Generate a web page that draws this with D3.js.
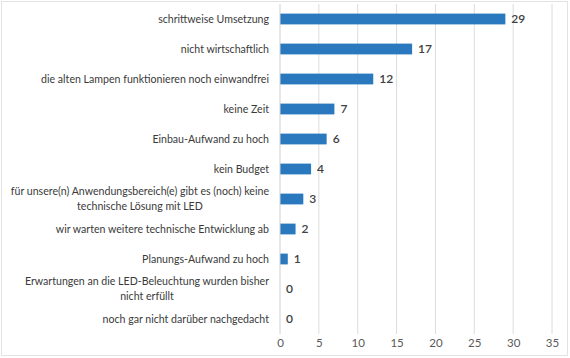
<!DOCTYPE html>
<html><head><meta charset="utf-8">
<script src="https://cdn.jsdelivr.net/npm/d3@7"></script>
<style>body{margin:0;background:#fff}svg{display:block}</style>
</head><body><svg id="c" width="570" height="358"></svg>
<script>
const categories = [
  ["schrittweise Umsetzung"],
  ["nicht wirtschaftlich"],
  ["die alten Lampen funktionieren noch einwandfrei"],
  ["keine Zeit"],
  ["Einbau-Aufwand zu hoch"],
  ["kein Budget"],
  ["für unsere(n) Anwendungsbereich(e) gibt es (noch) keine", "technische Lösung mit LED"],
  ["wir warten weitere technische Entwicklung ab"],
  ["Planungs-Aufwand zu hoch"],
  ["Erwartungen an die LED-Beleuchtung wurden bisher", "nicht erfüllt"],
  ["noch gar nicht darüber nachgedacht"]
];
const values = [29, 17, 12, 7, 6, 4, 3, 2, 1, 0, 0];
const ticks = [0, 5, 10, 15, 20, 25, 30, 35];

const svg = d3.select("#c");
const font = "Lato, 'Open Sans', sans-serif";
svg.append("rect").attr("x", 1.5).attr("y", 1.5).attr("width", 566).attr("height", 354)
  .attr("fill", "#fff").attr("stroke", "#e3e3e3");

const x = d3.scaleLinear().domain([0, 35]).range([280, 552]);
const y = d3.scaleBand().domain(d3.range(categories.length)).range([4, 334]).paddingInner(0.64).paddingOuter(0.32);

svg.append("g").selectAll("line").data(ticks.slice(1)).join("line")
  .attr("x1", d => x(d)).attr("x2", d => x(d)).attr("y1", 4).attr("y2", 334)
  .attr("stroke", "#dcdcdc").attr("stroke-width", 1);

const xAxis = d3.axisBottom(x).tickValues(ticks).tickSize(0).tickPadding(0);
const gx = svg.append("g").attr("transform", "translate(0,337)").call(xAxis);
gx.select(".domain").remove();
gx.selectAll("text").attr("font-family", font).attr("font-size", 11.5).attr("fill", "#595959").attr("dy", "0.9em");

svg.append("g").selectAll("rect").data(values).join("rect")
  .attr("x", x(0)).attr("y", (d, i) => y(i)).attr("width", d => x(d) - x(0)).attr("height", y.bandwidth())
  .attr("fill", "#2a78bd");

svg.append("line").attr("x1", x(0)).attr("x2", x(0)).attr("y1", 4).attr("y2", 334)
  .attr("stroke", "#d0d0d0");

svg.append("g").selectAll("text").data(values).join("text")
  .attr("x", d => x(d) + 6).attr("y", (d, i) => y(i) + y.bandwidth() / 2).attr("dy", "0.35em")
  .attr("font-family", font).attr("font-size", 12).attr("font-weight", 600).attr("fill", "#404040")
  .text(d => d);

const lh = 14.5;
const lab = svg.append("g");
const fs = 10.6, fw = "normal";
categories.forEach((lines, i) => {
  const cy = y(i) + y.bandwidth() / 2;
  const t = lab.append("text").attr("font-family", font).attr("font-size", fs).attr("font-weight", fw).attr("fill", "#3a3a3a");
  if (lines.length === 1) {
    t.attr("x", 269).attr("y", cy).attr("dy", "0.35em").attr("text-anchor", "end").text(lines[0]);
  } else {
    const tmp = lab.append("text").attr("font-family", font).attr("font-size", fs).attr("font-weight", fw).text(lines[0]);
    const w = tmp.node().getComputedTextLength();
    tmp.remove();
    const cx = 269 - w / 2;
    t.attr("text-anchor", "middle");
    lines.forEach((l, j) => {
      t.append("tspan").attr("x", cx).attr("y", cy + (j - (lines.length - 1) / 2) * lh).attr("dy", "0.35em").text(l);
    });
  }
});
</script></body></html>
